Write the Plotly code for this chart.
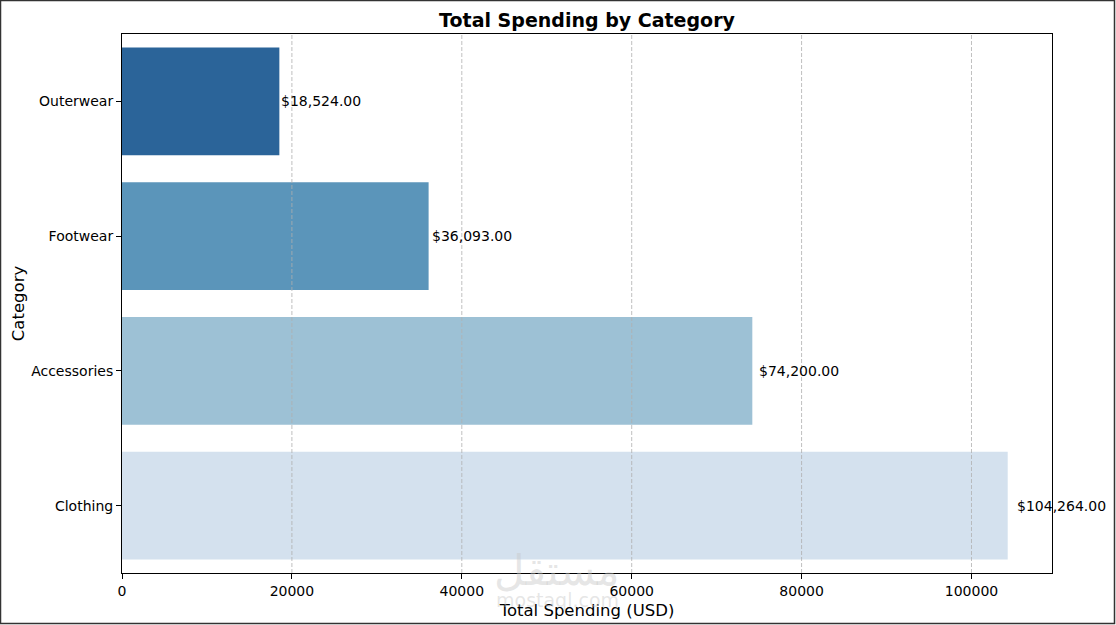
import plotly.graph_objects as go

categories = ["Clothing", "Accessories", "Footwear", "Outerwear"]
spending = [104264.00, 74200.00, 36093.00, 18524.00]
bar_colors = ["#d4e1ee", "#9dc1d5", "#5b95ba", "#2b6499"]
x_ticks = [0, 20000, 40000, 60000, 80000, 100000]

FONT = "DejaVu Sans"
L, R, T, B = 122, 64, 34, 52
W, H = 1116, 625
PW, PH = W - L - R, H - T - B

fig = go.Figure()
fig.add_trace(go.Bar(
    x=spending, y=categories, orientation="h",
    marker=dict(color=bar_colors, line=dict(width=0)),
    width=0.8, hoverinfo="x+y",
))

shapes = []
for t in x_ticks[1:]:
    shapes.append(dict(type="line", xref="x", yref="paper", x0=t, x1=t, y0=0, y1=1,
                       line=dict(color="rgba(176,176,176,0.8)", width=1, dash="4px,2px"),
                       layer="above"))
# figure border
shapes.append(dict(type="rect", xref="paper", yref="paper",
                   x0=(0.5 - L) / PW, x1=(W - 1.5 - L) / PW,
                   y0=(PH + T - (H - 1.5)) / PH, y1=(PH + T - 0.5) / PH,
                   line=dict(color="#333333", width=1.5), layer="above"))

annotations = [
    dict(text="مستقل", xref="paper", yref="paper", x=(557 - L) / PW, y=(PH + T - 568) / PH,
         showarrow=False, font=dict(family="Noto Sans", size=42, color="rgba(200,200,200,0.45)"),
         xanchor="center", yanchor="middle"),
    dict(text="mostaql.com", xref="paper", yref="paper", x=(557 - L) / PW, y=(PH + T - 600) / PH,
         showarrow=False, font=dict(family=FONT, size=19, color="rgba(200,200,200,0.45)"),
         xanchor="center", yanchor="middle"),
]
for c, v in zip(categories, spending):
    annotations.append(dict(text=f"${v:,.2f}", x=v * 1.01, y=c, xref="x", yref="y",
                            showarrow=False, xanchor="left", yanchor="middle", xshift=-2,
                            font=dict(family=FONT, size=14, color="black")))

fig.update_layout(
    width=W, height=H,
    margin=dict(l=L, r=R, t=T, b=B, autoexpand=False),
    paper_bgcolor="white", plot_bgcolor="white",
    showlegend=False,
    font=dict(family=FONT, size=14, color="black"),
    title=dict(text="<b>Total Spending by Category</b>", x=0.5, xref="paper", xanchor="center",
               y=1 - 20 / H, yref="container", yanchor="middle",
               font=dict(family=FONT, size=19, color="black")),
    xaxis=dict(range=[0, max(spending) * 1.05], tickvals=x_ticks,
               ticktext=[str(t) for t in x_ticks],
               showgrid=False, zeroline=False,
               showline=True, mirror=True, linecolor="black", linewidth=1,
               ticks="outside", ticklen=5, tickcolor="black",
               tickfont=dict(family=FONT, size=14),
               title=dict(text="Total Spending (USD)", font=dict(family=FONT, size=16.5), standoff=6)),
    yaxis=dict(categoryorder="array", categoryarray=categories, range=[-0.5, 3.5],
               showgrid=False, zeroline=False,
               showline=True, mirror=True, linecolor="black", linewidth=1,
               ticks="outside", ticklen=5, tickcolor="black",
               tickfont=dict(family=FONT, size=14),
               title=dict(text="Category", font=dict(family=FONT, size=16.5), standoff=2)),
    shapes=shapes,
    annotations=annotations,
)

fig.write_html("out.html")
